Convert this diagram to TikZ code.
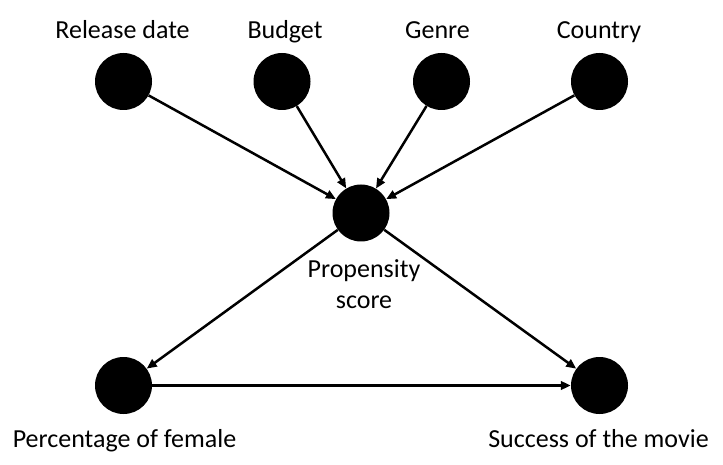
\documentclass[tikz,border=0pt]{standalone}
\usepackage{fontspec}
\setmainfont{Carlito}
\usetikzlibrary{arrows.meta}

\begin{document}
\begin{tikzpicture}[x=1pt,y=-1pt,
		var/.style={circle,fill=black,minimum size=57pt,inner sep=0pt},
		lbl/.style={anchor=base,inner sep=0pt,align=center,font=\fontsize{26}{31}\selectfont},
		edge/.style={-{Triangle[length=10pt,width=8.5pt]},line width=2.5pt}]
		\useasboundingbox (0,0) rectangle (723,465);
		% variables
		\node[var] (release) at (123.5,81.5) {};
		\node[var] (budget) at (282,81.5) {};
		\node[var] (genre) at (441.5,81.5) {};
		\node[var] (country) at (599.5,81.5) {};
		\node[var] (score) at (361,213) {};
		\node[var] (female) at (123.5,385.5) {};
		\node[var] (success) at (599.5,385.5) {};
		% labels
		\node[lbl] (releaselbl) at (122.5,39) {Release date};
		\node[lbl] (budgetlbl) at (285,39) {Budget};
		\node[lbl] (genrelbl) at (437.5,39) {Genre};
		\node[lbl] (countrylbl) at (599,39) {Country};
		\node[lbl] (scorelbl) at (364,308) {Propensity\\score};
		\node[lbl] (femalelbl) at (124.5,447) {Percentage of female};
		\node[lbl] (successlbl) at (598.5,447) {Success of the movie};
		% edges
		\draw[edge] (release) -- (score);
		\draw[edge] (budget) -- (score);
		\draw[edge] (genre) -- (score);
		\draw[edge] (country) -- (score);
		\draw[edge] (score) -- (female);
		\draw[edge] (score) -- (success);
		\draw[edge] (female) -- (success);
\end{tikzpicture}
\end{document}
